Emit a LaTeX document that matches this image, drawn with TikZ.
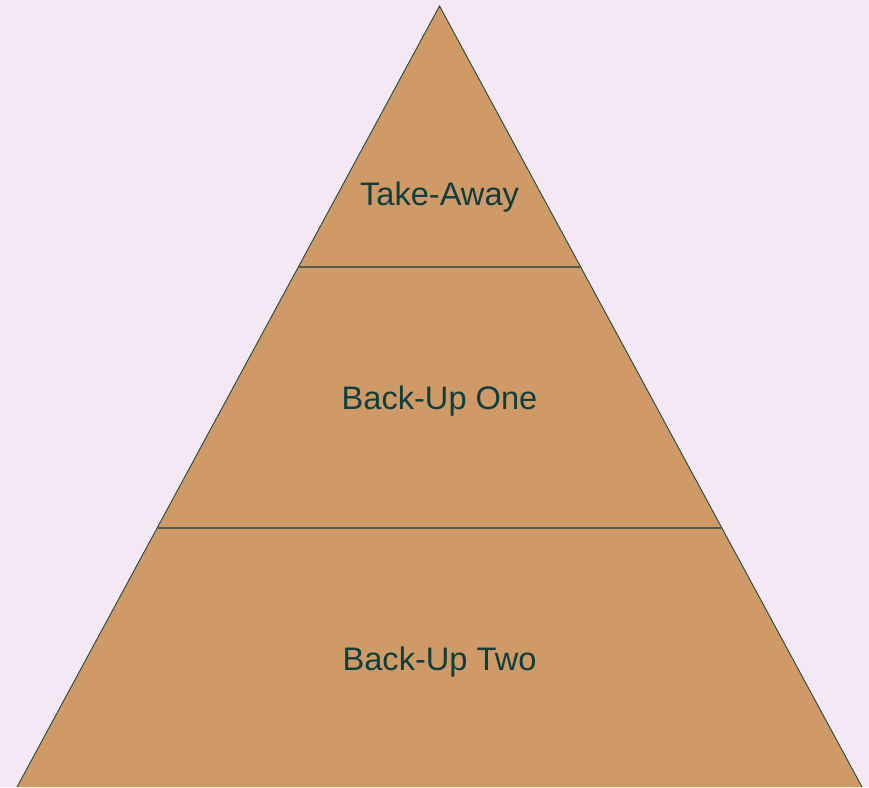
\documentclass[tikz,border=0pt]{standalone}
\usepackage{fontspec}
\setmainfont{Liberation Sans}
\definecolor{bg}{HTML}{F3E8F3}
\definecolor{fillc}{HTML}{D09A67}
\definecolor{edge}{HTML}{1F4A44}
\definecolor{divc}{HTML}{4A5E50}
\definecolor{txt}{HTML}{0E3F3F}
\begin{document}
\begin{tikzpicture}[x=1pt,y=-1pt,
  lbl/.style={text=txt,font=\fontsize{32.6}{38}\selectfont,inner sep=0pt}]
\fill[bg] (0,0) rectangle (869,787);
\useasboundingbox (0,0) rectangle (869,787);
\coordinate (apex) at (439.5,6);
\coordinate (bl) at (17,787);
\coordinate (br) at (862,787);
\fill[fillc] (apex) -- (bl) -- (br) -- cycle;
\draw[edge,line width=0.9pt] (bl) -- (apex) -- (br);
\coordinate (d1l) at (299,267);
\coordinate (d1r) at (580,267);
\coordinate (d2l) at (158,528);
\coordinate (d2r) at (721,528);
\draw[divc,line width=2pt] (d1l) -- (d1r);
\draw[divc,line width=2pt] (d2l) -- (d2r);
\node[lbl] (t1) at (439.5,197.5) {Take-Away};
\node[lbl] (t2) at (439.5,401.5) {Back-Up One};
\node[lbl] (t3) at (439.5,662.5) {Back-Up Two};
\end{tikzpicture}
\end{document}
